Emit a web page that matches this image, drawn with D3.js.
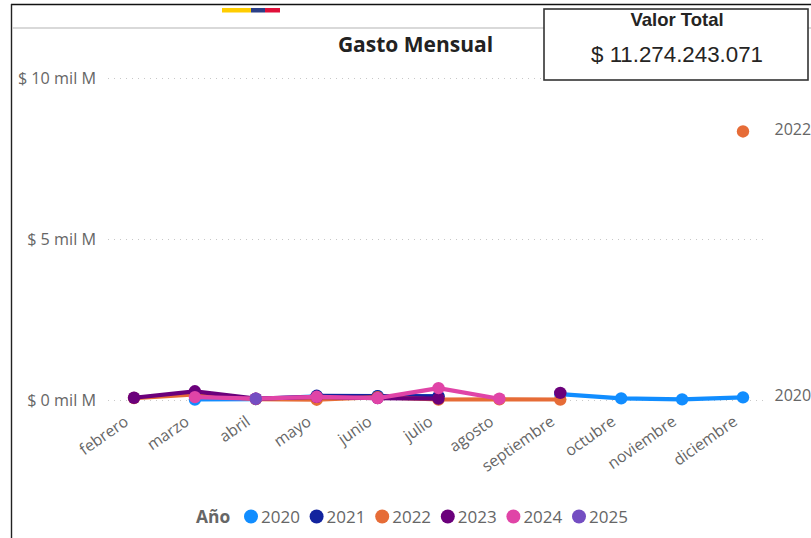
<!DOCTYPE html>
<html><head><meta charset="utf-8">
<script src="https://cdn.jsdelivr.net/npm/d3@7"></script>
<style>html,body{margin:0;padding:0;background:#fff}svg{display:block}</style>
</head><body><div id="c"></div>
<script>
const months = ["febrero","marzo","abril","mayo","junio","julio","agosto","septiembre","octubre","noviembre","diciembre"];
const years = ["2020","2021","2022","2023","2024","2025"];
const colors = ["#118DFF","#12239E","#E66C37","#6B007B","#E044A7","#744EC2"];
const yTicks = [0,5000,10000];
const yTickLabels = ["$ 0 mil M","$ 5 mil M","$ 10 mil M"];
const v2020 = [null,15,30,110,120,110,null,180,50,20,80];
const v2021 = [null,null,null,130,120,110,null,null,null,null,null];
const v2022 = [60,170,30,10,90,15,20,15,null,null,8340];
const v2023 = [70,270,40,100,60,45,null,220,null,null,null];
const v2024 = [null,90,40,100,60,370,40,null,null,null,null];
const v2025 = [null,null,40,null,null,null,null,null,null,null,null];
const seriesValues = [v2020,v2021,v2022,v2023,v2024,v2025];
const endLabels = [{year:"2022",month:"diciembre",value:8340},{year:"2020",month:"diciembre",value:80}];
const title = "Gasto Mensual", boxTitle = "Valor Total", boxValue = "$ 11.274.243.071", legendTitle = "Año";

const W=811,H=538,font="'Open Sans',sans-serif",gray="#666";
const svg=d3.select("#c").append("svg").attr("width",W).attr("height",H).style("font-family",font);
const x=d3.scalePoint().domain(months).range([134,743]);
const y=d3.scaleLinear().domain([0,10000]).range([400,78]);

// frame
svg.append("line").attr("x1",11).attr("x2",811).attr("y1",4.5).attr("y2",4.5).attr("stroke","#111").attr("stroke-width",1.4);
svg.append("line").attr("x1",11.5).attr("x2",11.5).attr("y1",4).attr("y2",538).attr("stroke","#222").attr("stroke-width",1.4);
svg.append("line").attr("x1",12).attr("x2",811).attr("y1",28).attr("y2",28).attr("stroke","#ccc").attr("stroke-width",1.6);
[["#FFCD00",222,251],["#2B3F87",251,265],["#E0103A",265,280]].forEach(d=>svg.append("rect").attr("x",d[1]).attr("y",8).attr("width",d[2]-d[1]).attr("height",4.5).attr("fill",d[0]));

// axes
const yAxis=d3.axisLeft(y).tickValues(yTicks).tickSize(0).tickPadding(12).tickFormat((d,i)=>yTickLabels[i]);
const gy=svg.append("g").attr("transform","translate(108,0)").call(yAxis);
gy.select(".domain").remove();
gy.selectAll("text").attr("fill",gray).style("font-size","16.2px").style("font-family",font);
gy.selectAll(".tick").append("line").attr("x1",0).attr("x2",660).attr("stroke","#c8c8c8").attr("stroke-width",1).attr("stroke-dasharray","1 5");
const xAxis=d3.axisBottom(x).tickSize(0).tickPadding(0);
const gx=svg.append("g").attr("transform","translate(0,410)").call(xAxis);
gx.select(".domain").remove();
gx.selectAll("text").attr("fill",gray).style("font-size","15.8px").style("font-family",font)
  .attr("text-anchor","end").attr("dy",0).attr("transform","translate(-5,14) rotate(-35)");

// series
const line=d3.line().defined(d=>d.v!==null).x(d=>x(d.m)).y(d=>y(d.v));
years.forEach((yr,i)=>{
  const pts=months.map((m,j)=>({m,v:seriesValues[i][j]}));
  const g=svg.append("g");
  g.append("path").attr("d",line(pts)).attr("fill","none").attr("stroke",colors[i]).attr("stroke-width",4.2).attr("stroke-linejoin","round");
  g.selectAll("circle").data(pts.filter(d=>d.v!==null)).join("circle").attr("cx",d=>x(d.m)).attr("cy",d=>y(d.v)).attr("r",6.2).attr("fill",colors[i]);
});
svg.selectAll(".end").data(endLabels).join("text").attr("class","end").attr("x",d=>x(d.month)+31.5).attr("y",d=>y(d.value)).attr("dy","0.24em")
  .attr("fill",gray).style("font-size","16px").text(d=>d.year);

// title
svg.append("text").attr("x",415.5).attr("y",52).attr("text-anchor","middle").attr("fill","#222").style("font-size","21px").style("font-weight",700).text(title);

// value box
svg.append("rect").attr("x",544).attr("y",9).attr("width",264).attr("height",71).attr("fill","#fff").attr("stroke","#333").attr("stroke-width",1.6);
svg.append("text").attr("x",677).attr("y",26).attr("text-anchor","middle").attr("fill","#252423").style("font-family","'Liberation Sans'").style("font-size","18.5px").style("font-weight",700).text(boxTitle);
svg.append("text").attr("x",677).attr("y",62).attr("text-anchor","middle").attr("fill","#252423").style("font-family","'Liberation Sans'").style("font-size","22.3px").text(boxValue);

// legend
const lg=svg.append("g");
lg.append("text").attr("x",196).attr("y",522.5).attr("fill",gray).style("font-size","17.4px").style("font-weight",700).text(legendTitle);
const lx=d3.scalePoint().domain(years).range([251,579]);
years.forEach((yr,i)=>{
  lg.append("circle").attr("cx",lx(yr)).attr("cy",516.5).attr("r",7).attr("fill",colors[i]);
  lg.append("text").attr("x",lx(yr)+10).attr("y",522.5).attr("fill",gray).style("font-size","17px").text(yr);
});
</script></body></html>
